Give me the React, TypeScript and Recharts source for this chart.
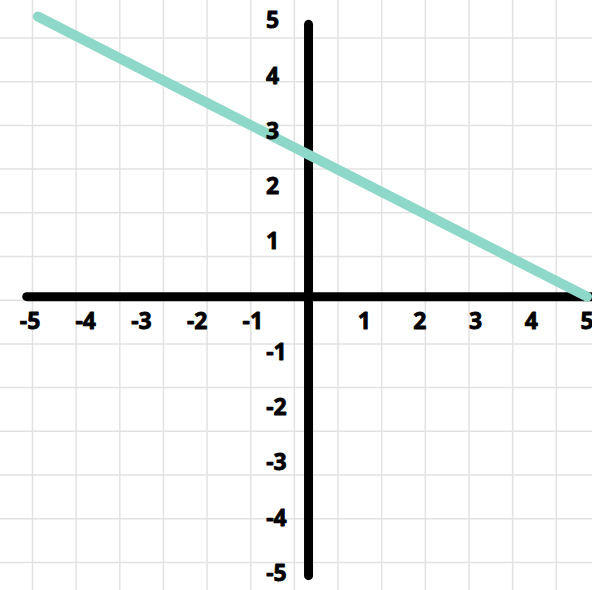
import React from 'react';
import { ComposedChart, Line, XAxis, YAxis, CartesianGrid, ReferenceLine, Scatter } from 'recharts';

const lineData = [
  { x: -4.86, y: 5.07 },
  { x: 5, y: 0 },
];
const xTickValues = [-5, -4, -3, -2, -1, 1, 2, 3, 4, 5];
const yTickValues = [5, 4, 3, 2, 1, -1, -2, -3, -4, -5];

const xLabelData = xTickValues.map((v) => ({ x: v, y: 0, label: String(v) }));
const yLabelData = yTickValues.map((v) => ({ x: 0, y: v, label: String(v) }));

const W = 592;
const H = 590;
const verticalPoints = Array.from({ length: 14 }, (_, k) => 32.5 + 43.65 * k);
const horizontalPoints = Array.from({ length: 14 }, (_, k) => 38 + 43.7 * k);

const labelStyle = {
  fontFamily: '"Noto Sans", sans-serif',
  fontSize: 23,
  fontWeight: 700,
  fill: '#000',
  stroke: '#000',
  strokeWidth: 0.8,
  strokeLinejoin: 'round' as const,
};

const XLabel = (props: any) => (
  <text x={props.cx} y={props.cy + 32} textAnchor="middle" style={labelStyle}>
    {props.payload.label}
  </text>
);
const YLabel = (props: any) => (
  <text
    x={props.cx - (props.payload.y > 0 ? 36 : 32)}
    y={props.cy + 8}
    textAnchor="middle"
    style={labelStyle}
  >
    {props.payload.label}
  </text>
);

export default function App() {
  return (
    <div style={{ position: 'absolute', left: 0, top: 0, width: W, height: H, background: '#fff' }}>
      <ComposedChart width={W} height={H} margin={{ top: 0, right: 0, bottom: 0, left: 0 }}>
        <CartesianGrid
          verticalPoints={verticalPoints}
          horizontalPoints={horizontalPoints}
          stroke="#e2e2e2"
          strokeWidth={1.5}
        />
        <XAxis type="number" dataKey="x" domain={[-5.54, 5.09]} hide allowDataOverflow />
        <YAxis type="number" dataKey="y" domain={[-5.31, 5.37]} hide allowDataOverflow />
        <ReferenceLine
          segment={[{ x: -5.06, y: 0 }, { x: 5.3, y: 0 }]}
          stroke="#000"
          strokeWidth={9}
          strokeLinecap="round"
          ifOverflow="visible"
        />
        <ReferenceLine
          segment={[{ x: 0, y: 4.93 }, { x: 0, y: -5.05 }]}
          stroke="#000"
          strokeWidth={9}
          strokeLinecap="round"
          ifOverflow="visible"
        />
        <Line
          data={lineData}
          dataKey="y"
          type="linear"
          stroke="#8dd8c8"
          strokeWidth={10}
          strokeLinecap="round"
          dot={false}
          activeDot={false}
          isAnimationActive={false}
        />
        <Scatter data={xLabelData} dataKey="y" shape={XLabel} isAnimationActive={false} />
        <Scatter data={yLabelData} dataKey="y" shape={YLabel} isAnimationActive={false} />
      </ComposedChart>
    </div>
  );
}
